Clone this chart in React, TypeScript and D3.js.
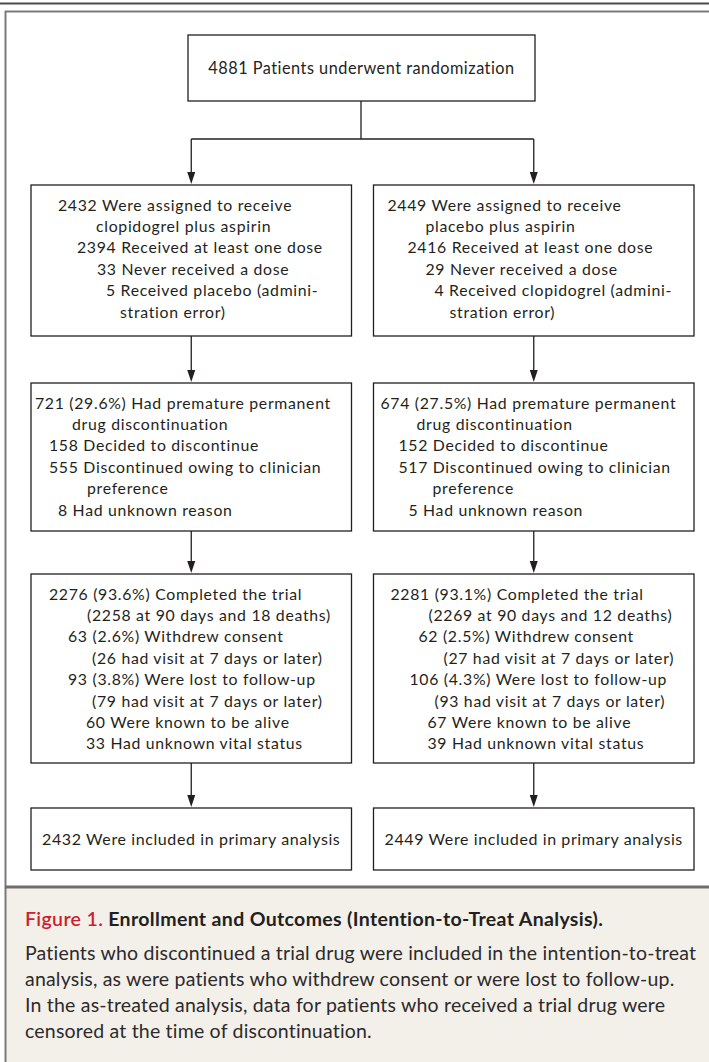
import React from "react";
import * as d3 from "d3";

const W = 709;
const H = 1062;

// ---- content ----
const arms = ["clopidogrel", "placebo"];
const randomizedText = "4881 Patients underwent randomization";

const assignedLines = [
  [
    "2432 Were assigned to receive",
    "clopidogrel plus aspirin",
    "2394 Received at least one dose",
    "33 Never received a dose",
    "5 Received placebo (admini-",
    "stration error)",
  ],
  [
    "2449 Were assigned to receive",
    "placebo plus aspirin",
    "2416 Received at least one dose",
    "29 Never received a dose",
    "4 Received clopidogrel (admini-",
    "stration error)",
  ],
];

const discontinuedLines = [
  [
    "721 (29.6%) Had premature permanent",
    "drug discontinuation",
    "158 Decided to discontinue",
    "555 Discontinued owing to clinician",
    "preference",
    "8 Had unknown reason",
  ],
  [
    "674 (27.5%) Had premature permanent",
    "drug discontinuation",
    "152 Decided to discontinue",
    "517 Discontinued owing to clinician",
    "preference",
    "5 Had unknown reason",
  ],
];

const completedLines = [
  [
    "2276 (93.6%) Completed the trial",
    "(2258 at 90 days and 18 deaths)",
    "63 (2.6%) Withdrew consent",
    "(26 had visit at 7 days or later)",
    "93 (3.8%) Were lost to follow-up",
    "(79 had visit at 7 days or later)",
    "60 Were known to be alive",
    "33 Had unknown vital status",
  ],
  [
    "2281 (93.1%) Completed the trial",
    "(2269 at 90 days and 12 deaths)",
    "62 (2.5%) Withdrew consent",
    "(27 had visit at 7 days or later)",
    "106 (4.3%) Were lost to follow-up",
    "(93 had visit at 7 days or later)",
    "67 Were known to be alive",
    "39 Had unknown vital status",
  ],
];

const analyzedLines = [
  "2432 Were included in primary analysis",
  "2449 Were included in primary analysis",
];

const captionLabel = "Figure 1.";
const captionTitle = " Enrollment and Outcomes (Intention-to-Treat Analysis).";
const captionBody = [
  "Patients who discontinued a trial drug were included in the intention-to-treat",
  "analysis, as were patients who withdrew consent or were lost to follow-up.",
  "In the as-treated analysis, data for patients who received a trial drug were",
  "censored at the time of discontinuation.",
];

// ---- layout (indentation of lines inside each box, px from box left) ----
const assignedIndent = [
  [27, 65, 46, 66, 75, 89],
  [14, 52, 34, 52, 61, 76],
];
const discontinuedIndent = [
  [4, 41, 18, 18, 56, 27],
  [7, 43, 25, 25, 59, 35],
];
const completedIndent = [
  [18, 56, 37, 61, 37, 61, 55, 55],
  [17, 55, 45, 70, 36, 61, 54, 54],
];

const FONT = "Lato, 'Open Sans', sans-serif";
const INK = "#231f20";

export default function App() {
  const x = d3
    .scaleBand<string>()
    .domain(arms)
    .range([31, 694])
    .paddingInner(0.0642)
    .paddingOuter(0);
  const bw = x.bandwidth();
  const cx = (a: string) => (x(a) as number) + bw / 2;

  const rows = {
    top: { y0: 35, y1: 101 },
    assigned: { y0: 185, y1: 336 },
    disc: { y0: 383, y1: 531 },
    comp: { y0: 574, y1: 763 },
    anal: { y0: 808, y1: 870 },
  };
  const topBox = { x0: 188, x1: 535 };
  const splitY = 139;
  const lineH = 21.4;
  const fs = 15.8;
  const ls = 0.7;

  const arrow = (xc: number, ya: number, yb: number, key: string) => (
    <g key={key}>
      <line x1={xc} x2={xc} y1={ya} y2={yb - 10} stroke={INK} strokeWidth={1.3} />
      <path
        d={`M${xc - 4},${yb - 12} L${xc + 4},${yb - 12} L${xc},${yb} Z`}
        fill={INK}
      />
    </g>
  );

  const box = (x0: number, y0: number, x1: number, y1: number, key: string) => (
    <rect
      key={key}
      x={x0}
      y={y0}
      width={x1 - x0}
      height={y1 - y0}
      fill="white"
      stroke={INK}
      strokeWidth={1.3}
    />
  );

  const textBlock = (
    lines: string[],
    indents: number[],
    bx: number,
    y0: number,
    key: string
  ) =>
    lines.map((t, i) => (
      <text
        key={key + i}
        x={bx + indents[i]}
        y={y0 + 20 + i * lineH}
        dy="0.35em"
        fontFamily={FONT}
        fontSize={fs}
        letterSpacing={ls}
        fill={INK}
      >
        {t}
      </text>
    ));

  return (
    <svg
      width={W}
      height={H}
      style={{ position: "absolute", left: 0, top: 0, background: "white" }}
    >
      {/* top rule */}
      <line x1={0} x2={W} y1={3.5} y2={3.5} stroke="#4a4a4a" strokeWidth={2} />
      {/* caption background */}
      <rect x={5} y={888} width={W} height={H - 888} fill="#f3f0ea" />
      {/* frame */}
      <line x1={5.5} x2={5.5} y1={11} y2={H} stroke="#7a7a7a" strokeWidth={2} />
      <line x1={5} x2={W} y1={11.5} y2={11.5} stroke="#7a7a7a" strokeWidth={2} />
      <line x1={5} x2={W} y1={887} y2={887} stroke="#6e6e6e" strokeWidth={3} />

      {/* top box */}
      {box(topBox.x0, rows.top.y0, topBox.x1, rows.top.y1, "tb")}
      <text
        x={(topBox.x0 + topBox.x1) / 2}
        y={(rows.top.y0 + rows.top.y1) / 2}
        dy="0.35em"
        textAnchor="middle"
        fontFamily={FONT}
        fontSize={16.3}
        letterSpacing={0.5}
        fill={INK}
      >
        {randomizedText}
      </text>

      {/* split connector */}
      <line
        x1={(topBox.x0 + topBox.x1) / 2 - 0.5}
        x2={(topBox.x0 + topBox.x1) / 2 - 0.5}
        y1={rows.top.y1}
        y2={splitY}
        stroke={INK}
        strokeWidth={1.3}
      />
      <line
        x1={cx(arms[0])}
        x2={cx(arms[1])}
        y1={splitY}
        y2={splitY}
        stroke={INK}
        strokeWidth={1.3}
      />

      {arms.map((a, k) => {
        const bx = x(a) as number;
        const c = cx(a);
        return (
          <g key={a}>
            {arrow(c, splitY, rows.assigned.y0 - 1, a + "a1")}
            {box(bx, rows.assigned.y0, bx + bw, rows.assigned.y1, a + "b1")}
            {textBlock(assignedLines[k], assignedIndent[k], bx, rows.assigned.y0, a + "t1")}

            {arrow(c, rows.assigned.y1, rows.disc.y0 - 1, a + "a2")}
            {box(bx, rows.disc.y0, bx + bw, rows.disc.y1, a + "b2")}
            {textBlock(discontinuedLines[k], discontinuedIndent[k], bx, rows.disc.y0, a + "t2")}

            {arrow(c, rows.disc.y1, rows.comp.y0 - 1, a + "a3")}
            {box(bx, rows.comp.y0, bx + bw, rows.comp.y1, a + "b3")}
            {textBlock(completedLines[k], completedIndent[k], bx, rows.comp.y0, a + "t3")}

            {arrow(c, rows.comp.y1, rows.anal.y0 - 1, a + "a4")}
            {box(bx, rows.anal.y0, bx + bw, rows.anal.y1, a + "b4")}
            <text
              x={c}
              y={(rows.anal.y0 + rows.anal.y1) / 2}
              dy="0.35em"
              textAnchor="middle"
              fontFamily={FONT}
              fontSize={16}
              letterSpacing={0.6}
              fill={INK}
            >
              {analyzedLines[k]}
            </text>
          </g>
        );
      })}

      {/* caption */}
      <text
        x={25}
        y={919}
        dy="0.35em"
        fontFamily={FONT}
        fontSize={19.5}
        letterSpacing={0.35}
        fill={INK}
      >
        <tspan fill="#cf1f2e" fontWeight={600}>
          {captionLabel}
        </tspan>
        <tspan fontWeight={700}>{captionTitle}</tspan>
      </text>
      {captionBody.map((t, i) => (
        <text
          key={"cb" + i}
          x={25}
          y={953 + i * 26.2}
          dy="0.35em"
          fontFamily={FONT}
          fontSize={19.5}
          letterSpacing={0.2}
          fill="#2d2a2b"
        >
          {t}
        </text>
      ))}
    </svg>
  );
}
